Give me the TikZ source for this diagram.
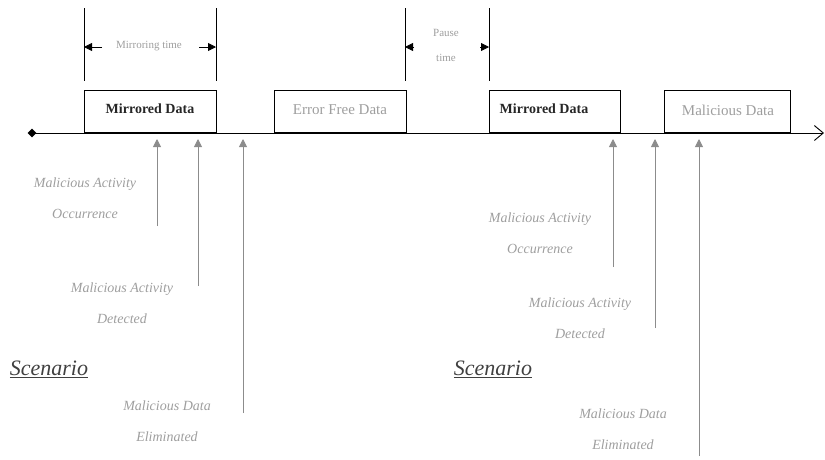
\documentclass[tikz,border=0pt]{standalone}
\usepackage{fontspec}
\setmainfont{Liberation Serif}
\usetikzlibrary{arrows.meta,shapes.geometric}
\definecolor{faint}{gray}{0.62}
\definecolor{pointer}{gray}{0.55}
\begin{document}
\begin{tikzpicture}[x=1pt,y=-1pt,
  databox/.style={draw=black,line width=0.9pt,minimum height=42pt,inner sep=0pt,anchor=south west},
  strongtext/.style={font=\bfseries\fontsize{14}{16}\selectfont,text=black!85},
  weaktext/.style={font=\fontsize{15}{17}\selectfont,text=faint},
  eventtext/.style={font=\itshape\fontsize{14}{31}\selectfont,text=faint,align=center},
  scen/.style={font=\itshape\fontsize{22}{24}\selectfont,text=black!75},
  dimtext/.style={font=\fontsize{11}{25}\selectfont,text=faint,align=center},
  dimline/.style={line width=0.7pt,black},
  dimarrow/.style={line width=0.8pt,-{Triangle[length=8pt,width=8pt]}},
  eventarrow/.style={line width=0.9pt,draw=pointer,-{Triangle[length=8pt,width=8pt,fill=pointer]}},
]
\useasboundingbox (0,0) rectangle (825,459);

% time axis
\coordinate (t0) at (32,133);
\coordinate (t1) at (824,133);
\draw[line width=0.9pt,-{Straight Barb[length=9pt,width=15pt]}] (t0) -- (t1);
\node[diamond,fill=black,inner sep=0pt,minimum size=9pt] (start) at (t0) {};

% data blocks
\node[databox,minimum width=132pt] (m1) at (84,133) {};
\node[strongtext] at (150,109) {Mirrored Data};
\node[databox,minimum width=132pt] (ef) at (274,133) {};
\node[weaktext] at (340,110) {Error Free Data};
\node[databox,minimum width=131pt] (m2) at (489,133) {};
\node[strongtext] at (544,109) {Mirrored Data};
\node[databox,minimum width=126pt] (md) at (664,133) {};
\node[weaktext] at (728,110) {Malicious Data};

% mirroring time dimension
\coordinate (a1) at (84,8);  \coordinate (a2) at (84,81);
\coordinate (b1) at (216,8); \coordinate (b2) at (216,81);
\draw[dimline] (a1) -- (a2);
\draw[dimline] (b1) -- (b2);
\coordinate (a3) at (102,47); \coordinate (a4) at (84,47);
\coordinate (b3) at (199,47); \coordinate (b4) at (216,47);
\draw[dimarrow] (a3) -- (a4);
\draw[dimarrow] (b3) -- (b4);
\node[dimtext] (mt) at (149,46) {Mirroring time};

% pause time dimension
\coordinate (c1) at (405,8); \coordinate (c2) at (405,81);
\coordinate (d1) at (489,8); \coordinate (d2) at (489,81);
\draw[dimline] (c1) -- (c2);
\draw[dimline] (d1) -- (d2);
\coordinate (c3) at (414,47); \coordinate (c4) at (405,47);
\coordinate (d3) at (480,47); \coordinate (d4) at (489,47);
\draw[dimarrow] (c3) -- (c4);
\draw[dimarrow] (d3) -- (d4);
\node[dimtext] (pt) at (446,45) {Pause\\time};

% first scenario
\coordinate (e1) at (157,226); \coordinate (e1t) at (157,139);
\coordinate (e2) at (198,286); \coordinate (e2t) at (198,139);
\coordinate (e3) at (243,413); \coordinate (e3t) at (243,139);
\draw[eventarrow] (e1) -- (e1t);
\draw[eventarrow] (e2) -- (e2t);
\draw[eventarrow] (e3) -- (e3t);
\node[eventtext] (o1) at (85,198) {Malicious Activity\\Occurrence};
\node[eventtext] (d1t) at (122,303) {Malicious Activity\\Detected};
\node[eventtext] (x1) at (167,421) {Malicious Data\\Eliminated};
\node[scen] (s1) at (49,369) {\underline{Scenario}};

% second scenario
\coordinate (f1) at (613,267); \coordinate (f1t) at (613,139);
\coordinate (f2) at (655,328); \coordinate (f2t) at (655,139);
\coordinate (f3) at (699,456); \coordinate (f3t) at (699,139);
\draw[eventarrow] (f1) -- (f1t);
\draw[eventarrow] (f2) -- (f2t);
\draw[eventarrow] (f3) -- (f3t);
\node[eventtext] (o2) at (540,233) {Malicious Activity\\Occurrence};
\node[eventtext] (d2t) at (580,318) {Malicious Activity\\Detected};
\node[eventtext] (x2) at (623,429) {Malicious Data\\Eliminated};
\node[scen] (s2) at (493,369) {\underline{Scenario}};
\end{tikzpicture}
\end{document}
